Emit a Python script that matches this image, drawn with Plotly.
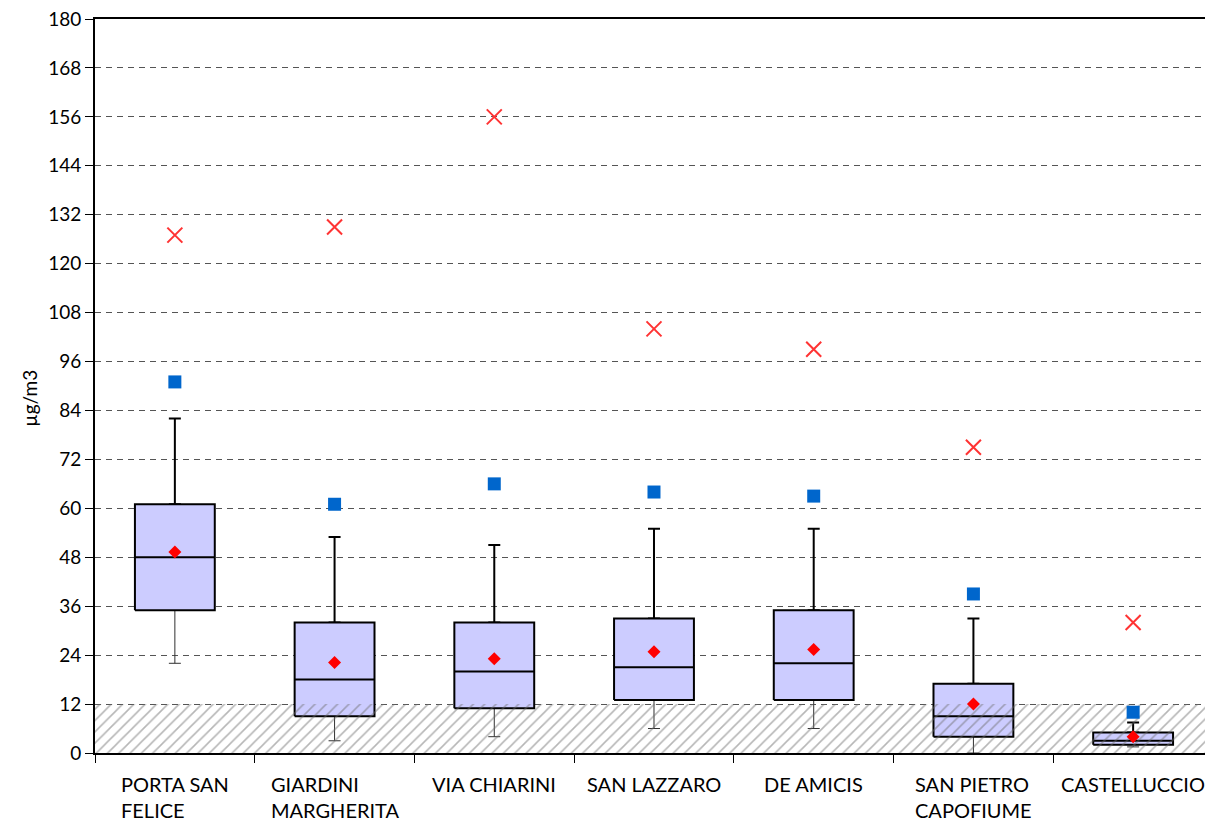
import plotly.graph_objects as go

# Monitoring sites (line breaks as drawn under the axis)
sites = ["PORTA SAN<br>FELICE", "GIARDINI<br>MARGHERITA", "VIA CHIARINI",
         "SAN LAZZARO", "DE AMICIS", "SAN PIETRO<br>CAPOFIUME", "CASTELLUCCIO"]

# Distribution statistics per site (µg/m3)
whisker_low = [22, 3, 4, 6, 6, 0, 1.5]
q1 = [35, 9, 11, 13, 13, 4, 2]
median = [48, 18, 20, 21, 22, 9, 3]
q3 = [61, 32, 32, 33, 35, 17, 5]
whisker_high = [82, 53, 51, 55, 55, 33, 7.5]
mean = [49.3, 22.2, 23.1, 24.8, 25.4, 12, 4]
high_pct = [91, 61, 66, 64, 63, 39, 10]
maximum = [127, 129, 156, 104, 99, 75, 32]

# Hatched band at the bottom of the scale
band_top = 12

y_ticks = list(range(0, 181, 12))

FONT = "Lato"
BOX_HALF = 0.25
pos = list(range(len(sites)))

fig = go.Figure()

# Lower whiskers: thin line with cap
fig.add_trace(go.Scatter(
    x=pos, y=q1, mode="markers",
    marker=dict(size=1, color="rgba(0,0,0,0)"),
    error_y=dict(type="data", symmetric=False,
                 array=[0] * len(pos),
                 arrayminus=[a - b for a, b in zip(q1, whisker_low)],
                 color="#303030", thickness=1, width=6),
    hoverinfo="skip", showlegend=False))

# Upper whiskers: heavier line with cap
fig.add_trace(go.Scatter(
    x=pos, y=q3, mode="markers",
    marker=dict(size=1, color="rgba(0,0,0,0)"),
    error_y=dict(type="data", symmetric=False,
                 array=[a - b for a, b in zip(whisker_high, q3)],
                 arrayminus=[0] * len(pos),
                 color="black", thickness=2, width=6),
    hoverinfo="skip", showlegend=False))

# Boxes from q1 to q3, with the median line
for p, lo, md, hi in zip(pos, q1, median, q3):
    fig.add_trace(go.Scatter(
        x=[p - BOX_HALF, p + BOX_HALF, p + BOX_HALF, p - BOX_HALF, p - BOX_HALF],
        y=[lo, lo, hi, hi, lo],
        mode="lines", fill="toself", fillcolor="#CCCCFF",
        line=dict(color="black", width=2),
        hoverinfo="skip", showlegend=False))
    fig.add_trace(go.Scatter(
        x=[p - BOX_HALF, p + BOX_HALF], y=[md, md],
        mode="lines", line=dict(color="black", width=2),
        hoverinfo="skip", showlegend=False))

# Hatched band from 0 up to band_top
fig.add_trace(go.Scatter(
    x=[-0.5, 7, 7, -0.5, -0.5], y=[0, 0, band_top, band_top, 0],
    mode="lines", fill="toself",
    line=dict(width=0, color="rgba(0,0,0,0)"),
    fillcolor="rgba(0,0,0,0)",
    fillpattern=dict(shape="/", fgcolor="#6e6e6e", bgcolor="rgba(0,0,0,0)",
                     size=8, solidity=0.2),
    hoverinfo="skip", showlegend=False))

# Upper percentile
fig.add_trace(go.Scatter(
    x=pos, y=high_pct, mode="markers",
    marker=dict(symbol="square", size=13, color="#0066CC"),
    showlegend=False))

# Mean
fig.add_trace(go.Scatter(
    x=pos, y=mean, mode="markers",
    marker=dict(symbol="diamond", size=10, color="#FF0000"),
    showlegend=False))

# Maximum
fig.add_trace(go.Scatter(
    x=pos, y=maximum, mode="markers",
    marker=dict(symbol="x-thin", size=15,
                line=dict(color="#FF3333", width=2)),
    showlegend=False))

# Site labels under the axis, lines left-aligned within each block
for p, name in zip(pos, sites):
    fig.add_annotation(
        x=p, y=0, xref="x", yref="paper", yanchor="top", xanchor="center",
        yshift=-17, text=name, align="left", showarrow=False,
        font=dict(family=FONT, size=20, color="black"))

# Y axis title
fig.add_annotation(
    x=-0.0586, y=0.484, xref="paper", yref="paper",
    xanchor="center", yanchor="middle", text="µg/m3", textangle=-90,
    showarrow=False, font=dict(family=FONT, size=19, color="black"))

fig.update_layout(
    width=1205, height=821,
    margin=dict(l=95, r=0, t=19, b=68),
    paper_bgcolor="white", plot_bgcolor="white",
    font=dict(family=FONT, color="black"),
    showlegend=False,
    xaxis=dict(
        range=[-0.5, 6.45],
        tickmode="array",
        tickvals=[p - 0.5 for p in pos],
        ticktext=[""] * len(pos),
        ticks="outside", ticklen=8, tickwidth=1, tickcolor="black",
        showgrid=False, zeroline=False,
        showline=True, linecolor="black", linewidth=2, mirror=True,
    ),
    yaxis=dict(
        range=[0, 180],
        tickmode="array", tickvals=y_ticks,
        ticktext=[str(v) for v in y_ticks],
        ticks="outside", ticklen=8, tickwidth=1, tickcolor="black",
        tickfont=dict(family=FONT, size=19, color="black"),
        showgrid=True, gridcolor="#555555", gridwidth=1, griddash="6px,5px",
        zeroline=False,
        showline=True, linecolor="black", linewidth=2, mirror=False,
    ),
)

fig.write_html("out.html")
